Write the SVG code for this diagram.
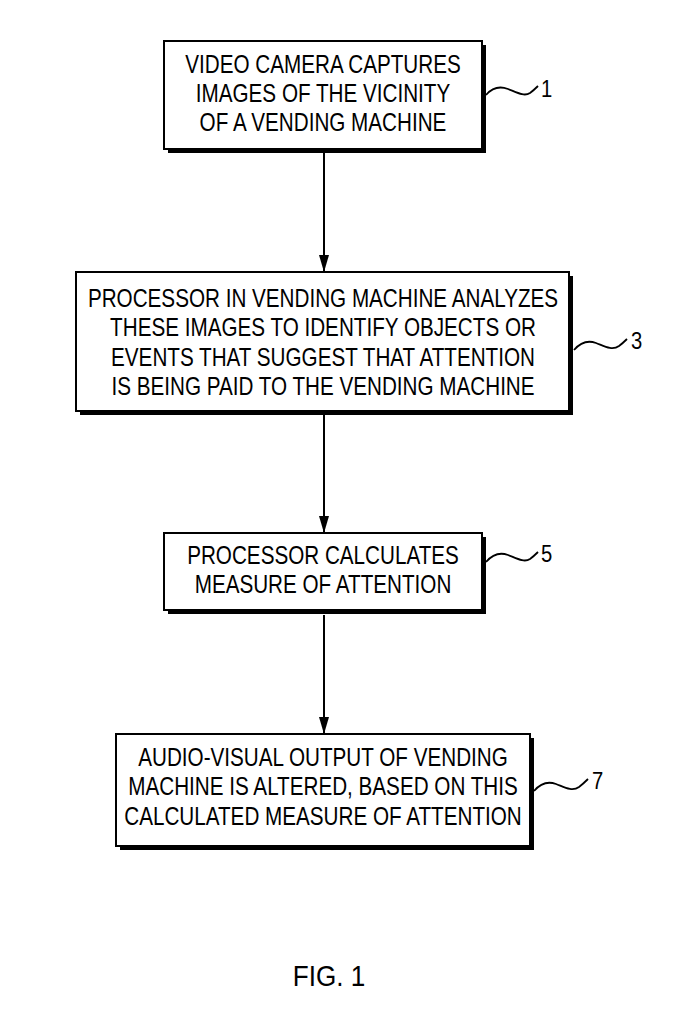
<svg xmlns="http://www.w3.org/2000/svg" width="696" height="1024" viewBox="0 0 696 1024">
<defs>
<style>
.box{fill:#fff;stroke:#000;stroke-width:2}
.shadow{fill:#000}
.t{font-family:"Liberation Sans",Arial,sans-serif;font-size:26px;text-anchor:middle;fill:#000}
.lbl{font-family:"Liberation Sans",Arial,sans-serif;font-size:23px;fill:#000}
.sq{fill:none;stroke:#000;stroke-width:1.8}
.conn{stroke:#000;stroke-width:2;fill:none}
</style>
<marker id="ah" viewBox="0 0 17 10" refX="17" refY="5" markerWidth="17" markerHeight="10" markerUnits="userSpaceOnUse" orient="auto">
<path d="M0,0 L17,5 L0,10 Z" fill="#000"/>
</marker>
</defs>
<rect width="696" height="1024" fill="#fff"/>

<g id="connectors">
<line class="conn" x1="324" y1="152" x2="324" y2="272" marker-end="url(#ah)"/>
<line class="conn" x1="324" y1="415" x2="324" y2="533" marker-end="url(#ah)"/>
<line class="conn" x1="324" y1="615" x2="324" y2="734" marker-end="url(#ah)"/>
</g>

<g id="node1">
<rect class="shadow" x="168" y="45" width="318" height="108"/>
<rect class="box" x="164" y="41" width="318" height="108"/>
<g transform="translate(323 0) scale(0.795 1)">
<text class="t" x="0" y="73">VIDEO CAMERA CAPTURES</text>
<text class="t" x="0" y="102">IMAGES OF THE VICINITY</text>
<text class="t" x="0" y="131">OF A VENDING MACHINE</text>
</g>
<path class="sq" d="M486,95 C492,88 500,86 508,89 C516,92 524,97 530,93 C534,90 536,88 538,86"/>
<g transform="translate(541 0) scale(0.88 1)"><text class="lbl" x="0" y="97">1</text></g>
</g>

<g id="node3">
<rect class="shadow" x="80" y="276" width="493" height="139"/>
<rect class="box" x="76" y="272" width="493" height="139"/>
<g transform="translate(323 0) scale(0.795 1)">
<text class="t" x="0" y="307">PROCESSOR IN VENDING MACHINE ANALYZES</text>
<text class="t" x="0" y="336">THESE IMAGES TO IDENTIFY OBJECTS OR</text>
<text class="t" x="0" y="366">EVENTS THAT SUGGEST THAT ATTENTION</text>
<text class="t" x="0" y="395">IS BEING PAID TO THE VENDING MACHINE</text>
</g>
<path class="sq" d="M574,350 C580,343 588,340 596,343 C604,346 612,351 619,346 C623,343 625,341 627,339"/>
<g transform="translate(631 0) scale(0.88 1)"><text class="lbl" x="0" y="349">3</text></g>
</g>

<g id="node5">
<rect class="shadow" x="168" y="537" width="318" height="77"/>
<rect class="box" x="164" y="533" width="318" height="77"/>
<g transform="translate(323 0) scale(0.795 1)">
<text class="t" x="0" y="564">PROCESSOR CALCULATES</text>
<text class="t" x="0" y="593">MEASURE OF ATTENTION</text>
</g>
<path class="sq" d="M486,562 C492,555 500,552 508,555 C516,558 524,563 530,559 C534,556 536,554 538,552"/>
<g transform="translate(541 0) scale(0.88 1)"><text class="lbl" x="0" y="562">5</text></g>
</g>

<g id="node7">
<rect class="shadow" x="120" y="738" width="414" height="112"/>
<rect class="box" x="116" y="734" width="414" height="112"/>
<g transform="translate(323 0) scale(0.795 1)">
<text class="t" x="0" y="766">AUDIO-VISUAL OUTPUT OF VENDING</text>
<text class="t" x="0" y="795">MACHINE IS ALTERED, BASED ON THIS</text>
<text class="t" x="0" y="825">CALCULATED MEASURE OF ATTENTION</text>
</g>
<path class="sq" d="M534,791 C540,784 548,781 556,784 C564,787 572,792 579,787 C583,784 585,782 588,779"/>
<g transform="translate(592 0) scale(0.88 1)"><text class="lbl" x="0" y="789">7</text></g>
</g>

<g id="caption">
<g transform="translate(329 0) scale(0.9 1)">
<text class="t" x="0" y="986" style="font-size:29px">FIG. 1</text>
</g>
</g>
</svg>
